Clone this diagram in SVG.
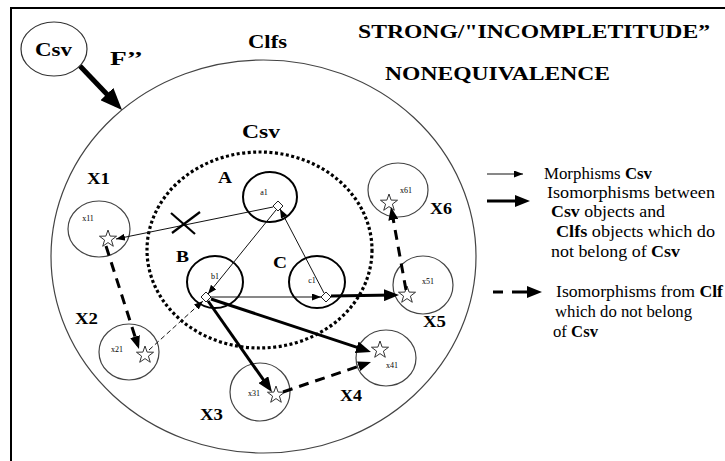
<svg xmlns="http://www.w3.org/2000/svg" xmlns:xlink="http://www.w3.org/1999/xlink" width="725" height="461" viewBox="0 0 725 461" font-family="'Liberation Serif', 'Times New Roman', serif">
<style>
text{font-family:'Liberation Serif','Times New Roman',serif;fill:#000}
.lbl{font-size:17px;font-weight:bold}
.big{font-size:19px;font-weight:bold}
.sm{font-size:8px}
.leg{font-size:17px}
.b{font-weight:bold}
.obj{fill:none;stroke:#000;stroke-width:2}
.xc{fill:none;stroke:#444;stroke-width:1.2}
.thin{stroke:#111;stroke-width:1;fill:none;marker-end:url(#mThin)}
.thick{stroke:#000;stroke-width:3;fill:none;marker-end:url(#mThick)}
.dash{stroke:#000;stroke-width:3;fill:none;stroke-dasharray:10 7;marker-end:url(#mDash)}
.star{fill:#fff;stroke:#333;stroke-width:1}
.dia{fill:#fff;stroke:#222;stroke-width:1}
</style>
<defs>
<marker id="mThin" markerUnits="userSpaceOnUse" markerWidth="9" markerHeight="7" refX="9" refY="3.5" orient="auto"><path d="M0,0 L9,3.5 L0,7 z" fill="#000"/></marker>
<marker id="mThick" markerUnits="userSpaceOnUse" markerWidth="15" markerHeight="12" refX="10" refY="6" orient="auto"><path d="M0,0 L15,6 L0,12 z" fill="#000"/></marker>
<marker id="mDash" markerUnits="userSpaceOnUse" markerWidth="13" markerHeight="10" refX="9" refY="5" orient="auto"><path d="M0,0 L13,5 L0,10 z" fill="#000"/></marker>
<marker id="mBig" markerUnits="userSpaceOnUse" markerWidth="22" markerHeight="18" refX="15" refY="9" orient="auto"><path d="M0,0 L22,9 L0,18 z" fill="#000"/></marker>
<polygon id="star" points="0,-9 2.12,-2.91 8.56,-2.78 3.42,1.11 5.29,7.28 0,3.6 -5.29,7.28 -3.42,1.11 -8.56,-2.78 -2.12,-2.91"/>
<polygon id="dia" points="0,-5 5,0 0,5 -5,0"/>
</defs>

<rect x="0" y="0" width="725" height="461" fill="#fff"/>
<g id="frame"><rect x="11" y="8" width="730" height="470" fill="none" stroke="#000" stroke-width="2"/></g>

<g id="title">
<text class="big" x="358" y="38" textLength="352" lengthAdjust="spacingAndGlyphs">STRONG/"INCOMPLETITUDE”</text>
<text class="big" x="385" y="80" textLength="225" lengthAdjust="spacingAndGlyphs">NONEQUIVALENCE</text>
</g>

<g id="node-csv-source">
<ellipse cx="54" cy="49" rx="33" ry="27" fill="none" stroke="#333" stroke-width="1.2"/>
<text class="big" x="35" y="56" textLength="37" lengthAdjust="spacingAndGlyphs">Csv</text>
</g>
<text class="big" x="110" y="65" textLength="33" lengthAdjust="spacingAndGlyphs">F’’</text>

<g id="node-clfs">
<ellipse cx="263.5" cy="256.5" rx="212.5" ry="196.5" fill="none" stroke="#444" stroke-width="1.2"/>
<text class="big" x="248" y="48" textLength="39" lengthAdjust="spacingAndGlyphs">Clfs</text>
</g>

<g id="node-csv">
<ellipse cx="259.5" cy="250" rx="112.5" ry="98" fill="none" stroke="#000" stroke-width="3.2" stroke-dasharray="3 2.5"/>
<text class="big" x="242" y="138" textLength="38" lengthAdjust="spacingAndGlyphs">Csv</text>
</g>

<g id="node-A">
<ellipse class="obj" cx="270" cy="197" rx="27" ry="25"/>
<text class="lbl" x="218" y="183" textLength="14" lengthAdjust="spacingAndGlyphs">A</text>
<text class="sm" x="264" y="195" text-anchor="middle">a1</text>
<use xlink:href="#dia" class="dia" x="278" y="206"/>
</g>
<g id="node-B">
<ellipse class="obj" cx="215" cy="282" rx="28" ry="26"/>
<text class="lbl" x="176" y="262" textLength="13" lengthAdjust="spacingAndGlyphs">B</text>
<text class="sm" x="215" y="279" text-anchor="middle">b1</text>
<use xlink:href="#dia" class="dia" x="206" y="297"/>
</g>
<g id="node-C">
<ellipse class="obj" cx="317" cy="282" rx="28" ry="26"/>
<text class="lbl" x="273" y="268" textLength="14" lengthAdjust="spacingAndGlyphs">C</text>
<text class="sm" x="312" y="283" text-anchor="middle">c1</text>
<use xlink:href="#dia" class="dia" x="326" y="297"/>
</g>

<g id="node-X1">
<ellipse class="xc" cx="99" cy="229" rx="31" ry="28"/>
<text class="lbl" x="87" y="184" textLength="23" lengthAdjust="spacingAndGlyphs">X1</text>
<text class="sm" x="88" y="221" text-anchor="middle">x11</text>
<use xlink:href="#star" class="star" x="108" y="239"/>
</g>
<g id="node-X2">
<ellipse class="xc" cx="129" cy="352" rx="30" ry="28"/>
<text class="lbl" x="75" y="324" textLength="23" lengthAdjust="spacingAndGlyphs">X2</text>
<text class="sm" x="117" y="352" text-anchor="middle">x21</text>
<use xlink:href="#star" class="star" x="145" y="355"/>
</g>
<g id="node-X3">
<ellipse class="xc" cx="260" cy="392" rx="30" ry="29"/>
<text class="lbl" x="200" y="420" textLength="23" lengthAdjust="spacingAndGlyphs">X3</text>
<text class="sm" x="254" y="396" text-anchor="middle">x31</text>
<use xlink:href="#star" class="star" x="276" y="395"/>
</g>
<g id="node-X4">
<ellipse class="xc" cx="386" cy="358" rx="30" ry="28"/>
<text class="lbl" x="340" y="401" textLength="22" lengthAdjust="spacingAndGlyphs">X4</text>
<text class="sm" x="392" y="368" text-anchor="middle">x41</text>
<use xlink:href="#star" class="star" x="380" y="350"/>
</g>
<g id="node-X5">
<ellipse class="xc" cx="423" cy="285" rx="30" ry="29"/>
<text class="lbl" x="423" y="327" textLength="23" lengthAdjust="spacingAndGlyphs">X5</text>
<text class="sm" x="428" y="284" text-anchor="middle">x51</text>
<use xlink:href="#star" class="star" x="407" y="295"/>
</g>
<g id="node-X6">
<ellipse class="xc" cx="398" cy="190" rx="30" ry="27"/>
<text class="lbl" x="430" y="214" textLength="22" lengthAdjust="spacingAndGlyphs">X6</text>
<text class="sm" x="406" y="193" text-anchor="middle">x61</text>
<use xlink:href="#star" class="star" x="389" y="203"/>
</g>

<g id="connectors">
<line x1="80" y1="66" x2="117.2" y2="104.9" stroke="#000" stroke-width="5" marker-end="url(#mBig)"/>
<line class="thin" x1="273" y1="207" x2="116" y2="239" stroke="#444"/>
<line x1="171" y1="213" x2="195" y2="234" stroke="#000" stroke-width="2.2"/>
<line x1="200" y1="212" x2="172" y2="233" stroke="#000" stroke-width="2.2"/>
<line class="thin" x1="276" y1="210" x2="208" y2="294"/>
<line class="thin" x1="324" y1="293" x2="280" y2="209"/>
<line class="thin" x1="211" y1="297" x2="321" y2="297"/>
<line class="thin" x1="149" y1="350" x2="203" y2="301" stroke="#555" stroke-dasharray="5 3"/>
<line class="thick" x1="331" y1="296" x2="394" y2="295"/>
<line class="thick" x1="208" y1="301" x2="269.1" y2="387.9"/>
<line class="thick" x1="211" y1="299" x2="366.2" y2="350.4"/>
<line class="dash" x1="283" y1="392" x2="367.2" y2="363.3" stroke-width="4" stroke-dasharray="12 7"/>
<line class="dash" x1="106" y1="246" x2="137.8" y2="345.2"/>
<line class="dash" x1="406" y1="290" x2="391.7" y2="211"/>
</g>

<g id="legend">
<line class="thin" x1="487" y1="174" x2="523" y2="174"/>
<text class="leg" x="544" y="179" textLength="108" lengthAdjust="spacingAndGlyphs">Morphisms <tspan class="b">Csv</tspan></text>
<line class="thick" x1="487" y1="201" x2="525" y2="201"/>
<text class="leg" x="547" y="198" textLength="168" lengthAdjust="spacingAndGlyphs">Isomorphisms between</text>
<text class="leg" x="551" y="217" textLength="114" lengthAdjust="spacingAndGlyphs"><tspan class="b">Csv</tspan> objects and</text>
<text class="leg" x="556" y="237" textLength="159" lengthAdjust="spacingAndGlyphs"><tspan class="b">Clfs</tspan> objects which do</text>
<text class="leg" x="551" y="257" textLength="129" lengthAdjust="spacingAndGlyphs">not belong of <tspan class="b">Csv</tspan></text>
<path d="M493,292 H503 M512,292 H537" stroke="#000" stroke-width="3" fill="none" marker-end="url(#mThick)"/>
<text class="leg" x="556" y="297" textLength="167" lengthAdjust="spacingAndGlyphs">Isomorphisms from <tspan class="b">Clf</tspan></text>
<text class="leg" x="555" y="317" textLength="137" lengthAdjust="spacingAndGlyphs">which do not belong</text>
<text class="leg" x="553" y="337" textLength="45" lengthAdjust="spacingAndGlyphs">of <tspan class="b">Csv</tspan></text>
</g>
</svg>
